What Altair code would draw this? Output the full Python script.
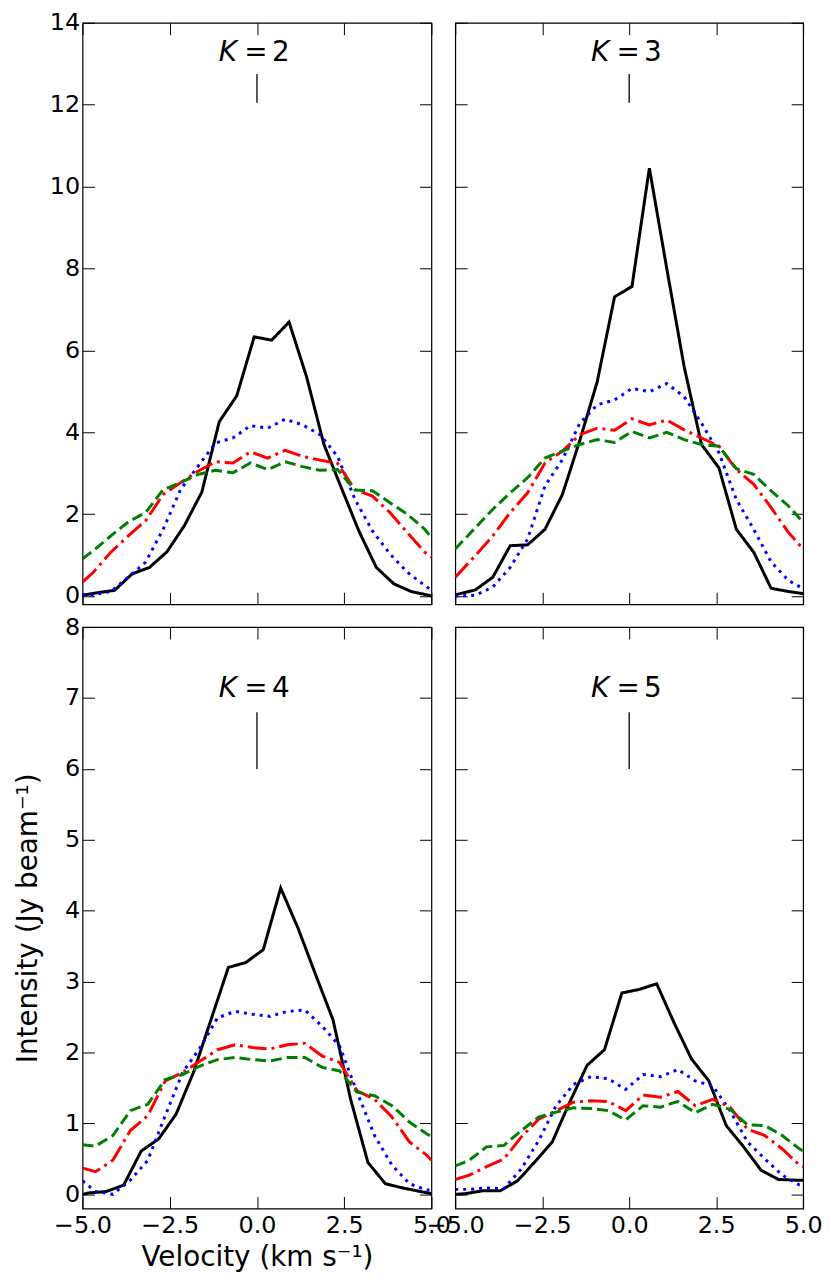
import altair as alt
import pandas as pd

# ---------------- data ----------------
SERIES = ["black", "blue", "red", "green"]
COLORS = ["#000000", "#0000ff", "#ff0000", "#008000"]
DASHES = [[1, 0], [3, 5], [19, 5, 3, 5], [11, 5]]

X_TICKS = [-5, -2.5, 0, 2.5, 5]
Y_TICKS_TOP = [0, 2, 4, 6, 8, 10, 12, 14]
Y_TICKS_BOT = [0, 1, 2, 3, 4, 5, 6, 7, 8]

# K = 2
k2_v_black = [-5.0, -4.58, -4.08, -3.58, -3.08, -2.58, -2.08, -1.58, -1.08, -0.58, -0.08,
              0.42, 0.92, 1.42, 1.92, 2.42, 2.92, 3.42, 3.92, 4.42, 4.92, 5.0]
k2_black = [0.02, 0.08, 0.14, 0.54, 0.70, 1.08, 1.72, 2.54, 4.26, 4.89, 6.33,
            6.25, 6.69, 5.36, 3.70, 2.64, 1.59, 0.70, 0.30, 0.11, 0.02, 0.0]
k2_v_col = [-5.0, -4.69, -4.19, -3.69, -3.19, -2.69, -2.19, -1.69, -1.19, -0.69, -0.19,
            0.31, 0.81, 1.31, 1.81, 2.31, 2.81, 3.31, 3.81, 4.31, 4.81, 5.0]
k2_blue = [0.03, 0.03, 0.11, 0.46, 0.83, 1.63, 2.60, 3.17, 3.74, 3.86, 4.16,
           4.10, 4.32, 4.18, 3.94, 3.41, 2.36, 1.59, 1.03, 0.58, 0.26, 0.14]
k2_red = [0.34, 0.58, 1.07, 1.47, 1.84, 2.48, 2.77, 3.05, 3.28, 3.25, 3.52,
          3.37, 3.56, 3.41, 3.32, 3.24, 2.60, 2.44, 2.04, 1.55, 1.07, 0.95]
k2_green = [0.91, 1.11, 1.47, 1.81, 2.04, 2.60, 2.77, 2.97, 3.07, 3.01, 3.25,
            3.09, 3.28, 3.16, 3.07, 3.09, 2.59, 2.57, 2.28, 2.00, 1.63, 1.43]

# K = 3
k3_v_black = [-5.0, -4.42, -3.92, -3.42, -2.92, -2.42, -1.92, -1.42, -0.92, -0.42, 0.08,
              0.58, 1.08, 1.58, 2.08, 2.58, 3.08, 3.58, 4.08, 4.58, 5.0]
k3_black = [0.03, 0.15, 0.46, 1.23, 1.25, 1.63, 2.48, 3.80, 5.23, 7.31, 7.56,
            10.45, 8.00, 5.60, 3.70, 3.13, 1.63, 1.07, 0.19, 0.11, 0.06]
k3_v_col = k3_v_black
k3_blue = [0.0, 0.02, 0.22, 0.70, 1.39, 2.69, 3.33, 4.22, 4.67, 4.79, 5.07,
           4.99, 5.19, 4.87, 4.22, 3.50, 2.36, 1.63, 0.83, 0.38, 0.18]
k3_red = [0.46, 0.99, 1.47, 2.04, 2.52, 3.25, 3.54, 3.94, 4.10, 4.05, 4.33,
          4.18, 4.30, 4.06, 3.86, 3.66, 3.09, 2.73, 2.16, 1.55, 1.15]
k3_green = [1.15, 1.67, 2.12, 2.52, 2.89, 3.37, 3.54, 3.70, 3.82, 3.75, 4.02,
            3.86, 4.00, 3.82, 3.70, 3.66, 3.11, 2.97, 2.57, 2.20, 1.80]

# K = 4
k4_v_black = [-5.0, -4.82, -4.32, -3.82, -3.32, -2.82, -2.32, -1.82, -1.32, -0.82, -0.32,
              0.18, 0.68, 1.18, 1.68, 2.18, 2.68, 3.18, 3.68, 4.18, 4.68, 5.0]
k4_black = [0.0, 0.02, 0.04, 0.13, 0.61, 0.78, 1.13, 1.72, 2.46, 3.20, 3.27,
            3.45, 4.32, 3.75, 3.10, 2.46, 1.35, 0.45, 0.15, 0.09, 0.04, 0.01]
k4_v_col = [-5.0, -4.63, -4.13, -3.63, -3.13, -2.63, -2.13, -1.63, -1.13, -0.63, -0.13,
            0.37, 0.87, 1.37, 1.87, 2.37, 2.87, 3.37, 3.87, 4.37, 4.87, 5.0]
k4_blue = [0.19, 0.04, 0.0, 0.20, 0.48, 1.11, 1.72, 2.07, 2.49, 2.58, 2.54,
           2.51, 2.58, 2.60, 2.37, 2.09, 1.44, 0.83, 0.41, 0.15, 0.06, 0.06]
k4_red = [0.37, 0.32, 0.48, 0.90, 1.11, 1.60, 1.72, 1.88, 2.04, 2.11, 2.07,
          2.05, 2.11, 2.13, 1.95, 1.86, 1.46, 1.34, 1.09, 0.74, 0.55, 0.48]
k4_green = [0.70, 0.68, 0.83, 1.18, 1.27, 1.62, 1.69, 1.81, 1.90, 1.93, 1.90,
            1.88, 1.93, 1.93, 1.79, 1.74, 1.44, 1.39, 1.25, 1.02, 0.85, 0.82]

# K = 5
k5_v_black = [-5.0, -4.71, -4.21, -3.71, -3.21, -2.71, -2.21, -1.71, -1.21, -0.71, -0.21,
              0.29, 0.79, 1.29, 1.79, 2.29, 2.79, 3.29, 3.79, 4.29, 4.79, 5.0]
k5_black = [0.0, 0.01, 0.05, 0.05, 0.19, 0.46, 0.74, 1.30, 1.82, 2.04, 2.84,
            2.89, 2.97, 2.42, 1.91, 1.60, 0.97, 0.67, 0.34, 0.21, 0.20, 0.20]
k5_v_col = [-5.0, -4.6, -4.1, -3.6, -3.1, -2.6, -2.1, -1.6, -1.1, -0.6, -0.1,
            0.4, 0.9, 1.4, 1.9, 2.4, 2.9, 3.4, 3.9, 4.4, 4.9, 5.0]
k5_blue = [0.07, 0.07, 0.09, 0.08, 0.36, 0.76, 1.25, 1.55, 1.66, 1.63, 1.48,
           1.69, 1.66, 1.76, 1.60, 1.53, 1.18, 0.74, 0.50, 0.27, 0.13, 0.12]
k5_red = [0.21, 0.27, 0.39, 0.50, 0.81, 1.06, 1.18, 1.30, 1.32, 1.31, 1.18,
          1.40, 1.37, 1.45, 1.25, 1.34, 1.23, 0.92, 0.83, 0.64, 0.41, 0.39]
k5_green = [0.40, 0.48, 0.67, 0.69, 0.90, 1.09, 1.16, 1.22, 1.21, 1.18, 1.05,
            1.25, 1.23, 1.31, 1.15, 1.27, 1.20, 0.98, 0.97, 0.83, 0.64, 0.61]

K_VALUES = ["2", "3", "4", "5"]
MARKER_V = [0.0, 0.0, 0.0, 0.0]
MARKER_LO = [12.05, 12.05, 6.0, 6.0]
MARKER_HI = [12.75, 12.75, 6.8, 6.8]
LABEL_Y = [13.26, 13.26, 7.13, 7.13]

Y_DOM_TOP = [-0.2, 14]
Y_DOM_BOT = [-0.2, 8]

FONT = "DejaVu Sans"
TICK = 12


def long_df(vb, b, vc, blue, red, green):
    rows = []
    for v, y in zip(vb, b):
        rows.append({"v": v, "I": y, "s": "black"})
    for name, arr in (("blue", blue), ("red", red), ("green", green)):
        for v, y in zip(vc, arr):
            rows.append({"v": v, "I": y, "s": name})
    return pd.DataFrame(rows)


def panel(i, df, ydom, yticks, show_xlab, show_ylab, width):
    xscale = alt.Scale(domain=[-5, 5], nice=False, zero=False)
    yscale = alt.Scale(domain=ydom, nice=False, zero=False)

    xargs = dict(orient="bottom", values=X_TICKS, format=".1f", labels=show_xlab,
                 offset=-TICK, tickSize=TICK, domain=False, grid=False,
                 labelFlush=False, labelPadding=5, titlePadding=6)
    yargs = dict(orient="left", values=yticks, format="d", labels=show_ylab,
                 offset=-TICK, tickSize=TICK, domain=False, grid=False,
                 labelFlush=False, labelPadding=3, titlePadding=22)

    xtitle = "Velocity (km s\u207b\u00b9)" if (show_xlab and show_ylab) else None
    ytitle = "Intensity (Jy beam\u207b\u00b9)" if (show_xlab and show_ylab) else None

    lines = alt.Chart(df).mark_line(strokeWidth=3, clip=True).encode(
        x=alt.X("v:Q", scale=xscale, axis=alt.Axis(**xargs), title=xtitle),
        y=alt.Y("I:Q", scale=yscale, axis=alt.Axis(**yargs), title=ytitle),
        color=alt.Color("s:N", scale=alt.Scale(domain=SERIES, range=COLORS), legend=None),
        strokeDash=alt.StrokeDash("s:N", scale=alt.Scale(domain=SERIES, range=DASHES), legend=None),
        detail="s:N",
    )

    mdf = pd.DataFrame({"mx": [MARKER_V[i]], "lo": [MARKER_LO[i]], "hi": [MARKER_HI[i]],
                        "ly": [LABEL_Y[i]], "k": [K_VALUES[i]]})

    marker = alt.Chart(mdf).mark_rule(color="black", strokeWidth=1.3).encode(
        x=alt.X("mx:Q", scale=xscale, title=None,
                axis=alt.Axis(orient="top", values=X_TICKS, labels=False, offset=-TICK,
                              tickSize=TICK, domain=False, grid=False)),
        y=alt.Y("lo:Q", scale=yscale, title=None,
                axis=alt.Axis(orient="right", values=yticks, labels=False, offset=-TICK,
                              tickSize=TICK, domain=False, grid=False)),
        y2="hi:Q",
    )

    base_txt = alt.Chart(mdf).encode(
        x=alt.X("mx:Q", scale=xscale, axis=None),
        y=alt.Y("ly:Q", scale=yscale, axis=None),
    )
    t_k = base_txt.mark_text(text="K", font=FONT, fontSize=28, fontStyle="italic",
                             align="right", baseline="middle", dx=-20, color="black")
    t_eq = base_txt.mark_text(text="=", font=FONT, fontSize=28,
                              align="center", baseline="middle", dx=-1, color="black")
    t_n = base_txt.mark_text(font=FONT, fontSize=28, align="left", baseline="middle",
                             dx=15, color="black").encode(text="k:N")

    return alt.layer(lines, marker, t_k, t_eq, t_n).resolve_axis(
        x="independent", y="independent"
    ).properties(width=width, height=585)


p2 = panel(0, long_df(k2_v_black, k2_black, k2_v_col, k2_blue, k2_red, k2_green),
           Y_DOM_TOP, Y_TICKS_TOP, False, True, 351)
p3 = panel(1, long_df(k3_v_black, k3_black, k3_v_col, k3_blue, k3_red, k3_green),
           Y_DOM_TOP, Y_TICKS_TOP, False, False, 350)
p4 = panel(2, long_df(k4_v_black, k4_black, k4_v_col, k4_blue, k4_red, k4_green),
           Y_DOM_BOT, Y_TICKS_BOT, True, True, 351)
p5 = panel(3, long_df(k5_v_black, k5_black, k5_v_col, k5_blue, k5_red, k5_green),
           Y_DOM_BOT, Y_TICKS_BOT, True, False, 350)

chart = alt.concat(
    p2, p3, p4, p5, columns=2, spacing={"row": 23, "column": 24}, bounds="flush"
).properties(
    padding={"left": 6, "top": -2, "right": 0, "bottom": 0}
).configure_view(
    stroke="black", strokeWidth=1.2
).configure_axis(
    tickColor="black", tickWidth=1, labelFont=FONT, labelFontSize=24, labelColor="black",
    titleFont=FONT, titleFontSize=28, titleFontWeight="normal", titleColor="black"
)

chart.save("out.html", embed_options={"renderer": "svg", "actions": False})
